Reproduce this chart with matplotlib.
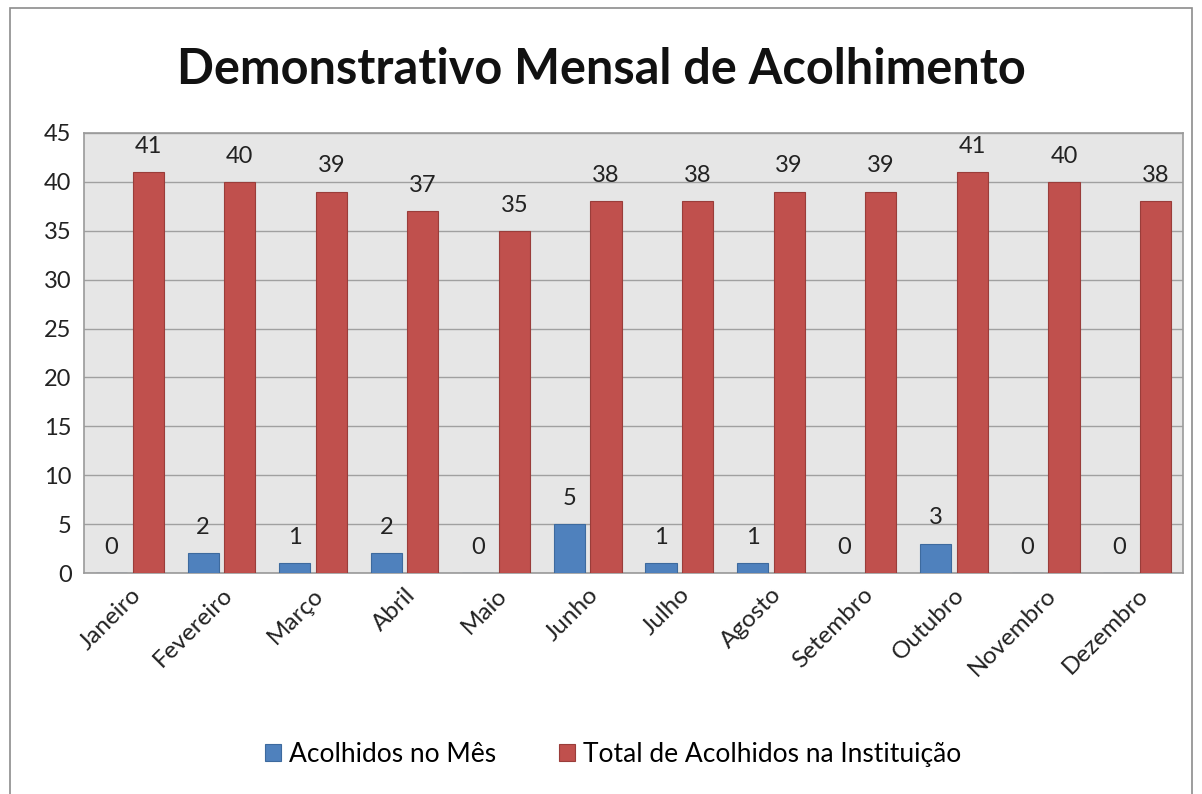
import matplotlib.pyplot as plt
import numpy as np
from matplotlib.patches import Rectangle

meses = ['Janeiro', 'Fevereiro', 'Março', 'Abril', 'Maio', 'Junho', 'Julho',
         'Agosto', 'Setembro', 'Outubro', 'Novembro', 'Dezembro']
acolhidos_mes = [0, 2, 1, 2, 0, 5, 1, 1, 0, 3, 0, 0]
total_instituicao = [41, 40, 39, 37, 35, 38, 38, 39, 39, 41, 40, 38]

plt.rcParams['font.family'] = ['Lato', 'DejaVu Sans']

fig = plt.figure(figsize=(12.02, 7.94), dpi=100)
fig.patches.append(Rectangle((0.008, -0.01), 0.984, 1.0, transform=fig.transFigure,
                             fill=False, edgecolor='#8c8c8c', linewidth=1.2))
ax = fig.add_axes([0.0699, 0.2783, 0.9143, 0.5542])
ax.set_facecolor('#e6e6e6')

x = np.arange(len(meses))
w = 0.34
b1 = ax.bar(x - 0.2, acolhidos_mes, w, color='#4f81bd', edgecolor='#3d6a9e',
            linewidth=0.8, label='Acolhidos no Mês', zorder=3)
b2 = ax.bar(x + 0.2, total_instituicao, w, color='#c0504d', edgecolor='#9a3d3a',
            linewidth=0.8, label='Total de Acolhidos na Instituição', zorder=3)

for bars, vals in ((b1, acolhidos_mes), (b2, total_instituicao)):
    for rect, v in zip(bars, vals):
        ax.annotate(str(v), (rect.get_x() + rect.get_width() / 2, v), xytext=(0, 11),
                    textcoords='offset points', ha='center', va='bottom',
                    fontsize=17, color='#222222')

ax.set_xlim(-0.5, 11.5)
ax.set_ylim(0, 45)
ax.set_yticks(range(0, 46, 5))
ax.yaxis.grid(True, color='#a0a0a0', linewidth=1)
ax.set_axisbelow(True)
ax.set_xticks(x)
ax.set_xticklabels(meses, rotation=45, ha='right', rotation_mode='anchor')
ax.tick_params(axis='x', labelsize=17.5, colors='#222222', length=0, pad=8)
ax.tick_params(axis='y', labelsize=17, colors='#222222', length=0, pad=9)
for s in ax.spines.values():
    s.set_color('#9a9a9a')
    s.set_linewidth(1.2)

fig.suptitle('Demonstrativo Mensal de Acolhimento', fontsize=35, fontweight='bold',
             y=0.912, va='center', color='#111111')
fig.legend(handles=[b1, b2], loc='center', bbox_to_anchor=(0.51, 0.05), ncol=2,
           frameon=False, fontsize=19, handlelength=0.6, handleheight=0.6,
           columnspacing=2.4, handletextpad=0.3)

fig.savefig('out.png', dpi=100)
